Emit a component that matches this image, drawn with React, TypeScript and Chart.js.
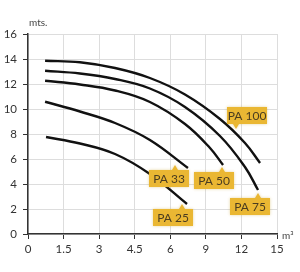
import React, { useEffect, useRef } from "react";
import { Chart, registerables } from "chart.js";

Chart.register(...registerables);

// axis ticks (flow axis is not linear: evenly spaced tick values)
const xTickValues = [0, 1.5, 3, 4.5, 6, 9, 12, 15];
const xTickLabels = ["0", "1.5", "3", "4.5", "6", "9", "12", "15"];
const yTicks = [0, 2, 4, 6, 8, 10, 12, 14, 16];

const seriesNames = ["PA 100", "PA 75", "PA 50", "PA 33", "PA 25"];

// flow (m³) and head (mts.) per pump curve
const pa100X = [0.72, 2.19, 3.67, 5.14, 7.24, 10.19, 12.3, 13.57];
const pa100Y = [13.86, 13.74, 13.28, 12.48, 11.16, 9.2, 7.28, 5.68];
const pa75X = [0.72, 2.19, 3.67, 5.14, 7.24, 10.19, 12.3, 13.4];
const pa75Y = [13.06, 12.84, 12.4, 11.64, 10.16, 7.84, 5.36, 3.52];
const pa50X = [0.72, 2.19, 3.67, 5.14, 7.24, 9.35, 10.45];
const pa50Y = [12.26, 11.96, 11.48, 10.56, 8.8, 6.88, 5.52];
const pa33X = [0.72, 2.19, 3.67, 5.14, 7.49];
const pa33Y = [10.58, 9.8, 8.88, 7.52, 5.28];
const pa25X = [0.76, 2.19, 3.67, 5.14, 7.41];
const pa25Y = [7.76, 7.24, 6.4, 4.8, 2.4];

const seriesX = [pa100X, pa75X, pa50X, pa33X, pa25X];
const seriesY = [pa100Y, pa75Y, pa50Y, pa33Y, pa25Y];

function toPos(v: number): number {
  for (let i = 0; i < xTickValues.length - 1; i++) {
    const a = xTickValues[i];
    const b = xTickValues[i + 1];
    if (v <= b || i === xTickValues.length - 2) return i + (v - a) / (b - a);
  }
  return 0;
}

// callout labels: dataset, anchor point index, box offset, pointer x within box, pointer direction
const labelCfg = [
  { ds: 0, idx: 6, dx: -18, dy: -36, px: 9, down: true },
  { ds: 1, idx: 7, dx: -28, dy: 8, px: 28, down: false },
  { ds: 2, idx: 6, dx: -29, dy: 7, px: 28, down: false },
  { ds: 3, idx: 4, dx: -39, dy: 2, px: 26, down: false },
  { ds: 4, idx: 4, dx: -34, dy: 5, px: 29, down: false },
];

const FONT = "Lato, 'Open Sans', sans-serif";

const calloutPlugin = {
  id: "callouts",
  afterDatasetsDraw(chart: any) {
    const ctx = chart.ctx;
    ctx.save();
    const w = 40;
    const h = 17;
    labelCfg.forEach((c, i) => {
      const el = chart.getDatasetMeta(c.ds).data[c.idx];
      if (!el) return;
      const bx = Math.round(el.x + c.dx);
      const by = Math.round(el.y + c.dy);
      ctx.shadowColor = "rgba(200,160,40,0.45)";
      ctx.shadowBlur = 3;
      ctx.fillStyle = "#EAB733";
      ctx.beginPath();
      ctx.rect(bx, by, w, h);
      const tx = bx + c.px;
      if (c.down) {
        ctx.moveTo(tx - 3, by + h);
        ctx.lineTo(tx, by + h + 5);
        ctx.lineTo(tx + 3, by + h);
      } else {
        ctx.moveTo(tx - 3, by);
        ctx.lineTo(tx, by - 5);
        ctx.lineTo(tx + 3, by);
      }
      ctx.fill();
      ctx.shadowBlur = 0;
      ctx.shadowColor = "transparent";
      ctx.fillStyle = "#4a3c20";
      ctx.font = "12px " + FONT;
      ctx.textAlign = "center";
      ctx.textBaseline = "middle";
      ctx.fillText(seriesNames[i], bx + w / 2, by + h / 2 + 1);
    });
    // axis unit labels
    ctx.fillStyle = "#444";
    ctx.font = "10px " + FONT;
    ctx.textAlign = "left";
    ctx.textBaseline = "middle";
    const area = chart.chartArea;
    ctx.fillText("mts.", area.left + 1, area.top - 11);
    ctx.fillText("m³", area.right + 5, area.bottom + 2);
    ctx.restore();
  },
};

export default function App() {
  const ref = useRef<HTMLCanvasElement | null>(null);
  useEffect(() => {
    if (!ref.current) return;
    const datasets = seriesNames.map((name, i) => ({
      label: name,
      data: seriesX[i].map((x, j) => ({ x: toPos(x), y: seriesY[i][j] })),
      borderColor: "#111",
      borderWidth: 2.4,
      pointRadius: 0,
      fill: false,
      tension: 0.4,
    }));
    const chart = new Chart(ref.current, {
      type: "line",
      data: { datasets },
      plugins: [calloutPlugin],
      options: {
        animation: false,
        responsive: false,
        maintainAspectRatio: false,
        layout: { padding: { top: 34, right: 23, left: 0, bottom: 0 } },
        plugins: { legend: { display: false }, tooltip: { enabled: false } },
        scales: {
          x: {
            type: "linear",
            min: 0,
            max: xTickValues.length - 1,
            afterBuildTicks: (scale: any) => {
              scale.ticks = xTickLabels.map((_, i) => ({ value: i }));
            },
            afterFit: (scale: any) => {
              scale.height = 38;
            },
            ticks: {
              callback: (v: any) => xTickLabels[Math.round(Number(v))] ?? "",
              color: "#333",
              font: { family: FONT, size: 11.5 },
              padding: 3,
              maxRotation: 0,
            },
            grid: { color: "#dddddd", tickColor: "#333", tickLength: 5, lineWidth: 1 },
            border: { color: "#333", width: 1.5 },
          },
          y: {
            type: "linear",
            min: 0,
            max: 16,
            afterBuildTicks: (scale: any) => {
              scale.ticks = yTicks.map((v) => ({ value: v }));
            },
            afterFit: (scale: any) => {
              scale.width = 28;
            },
            ticks: {
              color: "#333",
              font: { family: FONT, size: 11.5 },
              padding: 6,
            },
            grid: { color: "#dddddd", tickColor: "#333", tickLength: 5, lineWidth: 1 },
            border: { color: "#333", width: 1.5 },
          },
        },
      },
    });
    return () => chart.destroy();
  }, []);
  return (
    <div style={{ position: "fixed", left: 0, top: 0, width: 300, height: 272, background: "#fff" }}>
      <canvas ref={ref} width={300} height={272} style={{ width: 300, height: 272 }} />
    </div>
  );
}
